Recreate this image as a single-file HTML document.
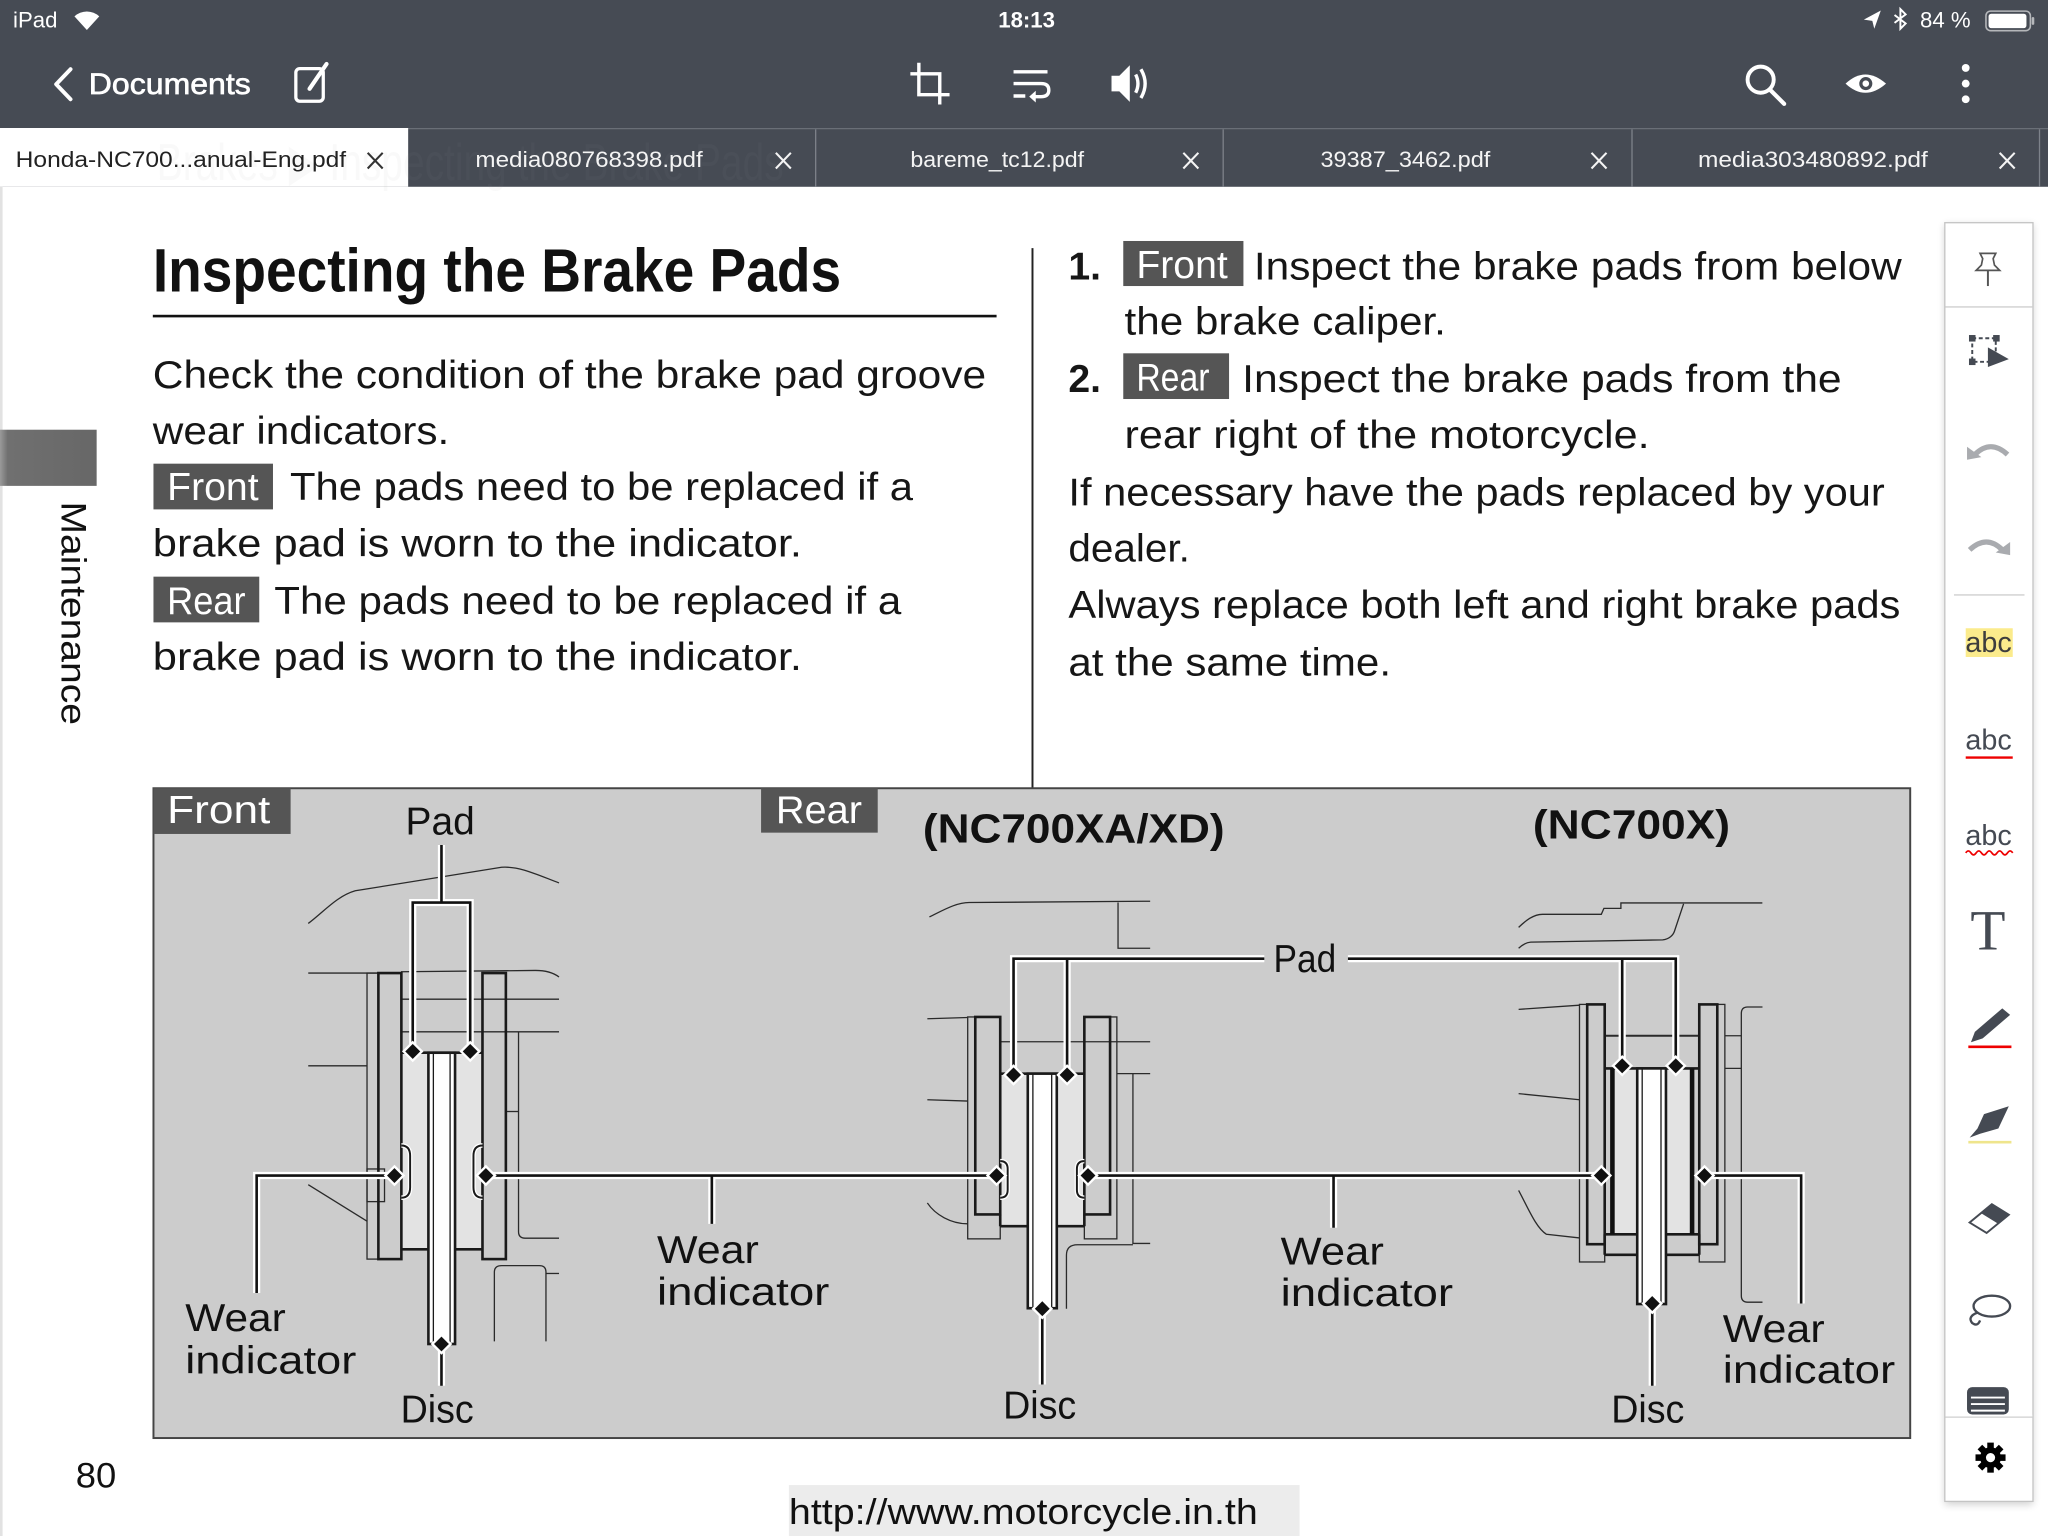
<!DOCTYPE html>
<html><head><meta charset="utf-8">
<style>
html,body{margin:0;padding:0;background:#fff;overflow:hidden;}
svg{display:block;}
</style></head>
<body>
<svg xmlns="http://www.w3.org/2000/svg" width="2048" height="1536" viewBox="0 0 1568 1176" font-family="'Liberation Sans', sans-serif">
<defs>
<filter id="sh" x="-30%" y="-5%" width="160%" height="110%"><feGaussianBlur stdDeviation="3"/></filter>
<linearGradient id="tabg" x1="0" x2="1" y1="0" y2="0">
<stop offset="0" stop-color="#9a9a9a"/><stop offset="0.08" stop-color="#707070"/><stop offset="1" stop-color="#676767"/>
</linearGradient>
</defs>
<rect width="1568" height="1176" fill="#fff"/>

<!-- ===== Top bars ===== -->
<rect width="1568" height="143" fill="#464b54"/>
<!-- status bar -->
<text x="10" y="21" font-size="17" fill="#fff">iPad</text>
<path d="M66.5,23 L57,12.5 A14,14 0 0 1 76,12.5 Z" fill="#fff"/>
<text x="786" y="21" font-size="17" font-weight="bold" fill="#fff" text-anchor="middle">18:13</text>
<path d="M1440,8 L1427,15 L1433.5,16 L1435,22 Z" fill="#fff"/>
<path d="M1450.5,11.5 L1459,18 L1455,22 L1455,7 L1459,11 L1450.5,17.5" stroke="#fff" stroke-width="1.5" fill="none"/>
<text x="1470" y="21" font-size="17" fill="#fff">84 %</text>
<rect x="1520.5" y="8.5" width="34" height="15" rx="3.5" fill="none" stroke="#fff" stroke-opacity="0.6" stroke-width="1.2"/>
<rect x="1522.5" y="10.5" width="29" height="11" rx="2" fill="#fff"/>
<rect x="1555.5" y="13" width="2" height="6" rx="1" fill="#fff" fill-opacity="0.6"/>

<!-- nav row -->
<path d="M54,53 L43,64.5 L54,76" stroke="#fff" stroke-width="3" fill="none" stroke-linecap="round" stroke-linejoin="round"/>
<text x="68" y="72" font-size="22.5" fill="#fff" stroke="#fff" stroke-width="0.5" textLength="124" lengthAdjust="spacingAndGlyphs">Documents</text>
<rect x="226.5" y="52.5" width="21" height="25" rx="3" fill="none" stroke="#fff" stroke-width="2.5"/>
<path d="M237,68 L250,49" stroke="#fff" stroke-width="3.2" stroke-linecap="round"/>
<!-- crop -->
<path d="M703.5,48 L703.5,72.5 L727,72.5 M697,56.5 L719.5,56.5 L719.5,80" stroke="#fff" stroke-width="2.6" fill="none"/>
<!-- wrap -->
<path d="M776,55 L802,55 M776,64 L797,64 Q803,64 803,69 Q803,74 797,74 L790,74 M776,73.5 L785,73.5" stroke="#fff" stroke-width="2.6" fill="none"/>
<path d="M793,69.5 L788,74 L793,78.5 Z" fill="#fff"/>
<!-- speaker -->
<path d="M851,58 L857,58 L865,50 L865,78 L857,70 L851,70 Z" fill="#fff"/>
<path d="M869.5,57 Q873,64 869.5,71 M873.5,53 Q880,64 873.5,75" stroke="#fff" stroke-width="2.6" fill="none"/>
<!-- search -->
<circle cx="1348" cy="61" r="10" stroke="#fff" stroke-width="3" fill="none"/>
<path d="M1355,68.5 L1366,79.5" stroke="#fff" stroke-width="3.2" stroke-linecap="round"/>
<!-- eye -->
<path d="M1413,64 Q1428,50 1444,64 Q1428,78 1413,64 Z" fill="#fff"/>
<circle cx="1428.5" cy="64" r="5" fill="#464b54"/>
<circle cx="1428.5" cy="64" r="2.5" fill="#fff"/>
<!-- kebab -->
<circle cx="1505" cy="52" r="3" fill="#fff"/><circle cx="1505" cy="64" r="3" fill="#fff"/><circle cx="1505" cy="76" r="3" fill="#fff"/>

<!-- tabs -->
<line x1="0" y1="98.5" x2="1568" y2="98.5" stroke="#6a6f77" stroke-width="1"/>
<rect x="0" y="98" width="312.5" height="45" fill="#fff"/>
<g stroke="#7d828a" stroke-width="1">
<line x1="624.5" y1="99" x2="624.5" y2="143"/><line x1="936.5" y1="99" x2="936.5" y2="143"/>
<line x1="1249.5" y1="99" x2="1249.5" y2="143"/><line x1="1561.5" y1="99" x2="1561.5" y2="143"/>
</g>
<!-- ghost header (very faint) -->
<text x="120" y="138" font-size="40" fill="#999" fill-opacity="0.06" textLength="480" lengthAdjust="spacingAndGlyphs">Brakes ▶ Inspecting the Brake Pads</text>
<text x="12" y="128" font-size="17" fill="#222" textLength="253" lengthAdjust="spacingAndGlyphs">Honda-NC700...anual-Eng.pdf</text>
<path d="M281.5,117 L293,129 M293,117 L281.5,129" stroke="#333" stroke-width="1.6"/>
<g font-size="17" fill="#f4f4f4">
<text x="364" y="128" textLength="174" lengthAdjust="spacingAndGlyphs">media080768398.pdf</text>
<text x="697" y="128" textLength="133" lengthAdjust="spacingAndGlyphs">bareme_tc12.pdf</text>
<text x="1011" y="128" textLength="130" lengthAdjust="spacingAndGlyphs">39387_3462.pdf</text>
<text x="1300" y="128" textLength="176" lengthAdjust="spacingAndGlyphs">media303480892.pdf</text>
</g>
<g stroke="#f4f4f4" stroke-width="1.6">
<path d="M594,117 L605.5,129 M605.5,117 L594,129"/>
<path d="M906,117 L917.5,129 M917.5,117 L906,129"/>
<path d="M1218.5,117 L1230,129 M1230,117 L1218.5,129"/>
<path d="M1531,117 L1542.5,129 M1542.5,117 L1531,129"/>
</g>

<!-- ===== Page ===== -->
<line x1="1" y1="143" x2="1" y2="1176" stroke="#e2e2e2" stroke-width="2"/>
<rect x="0" y="329" width="74" height="43" fill="url(#tabg)"/>
<text transform="translate(47,384) rotate(90)" font-size="27" fill="#111" textLength="171" lengthAdjust="spacingAndGlyphs">Maintenance</text>

<!-- title -->
<text x="117" y="223" font-size="47" font-weight="bold" fill="#111" textLength="527" lengthAdjust="spacingAndGlyphs">Inspecting the Brake Pads</text>
<rect x="117" y="241" width="646" height="2" fill="#111"/>

<g font-size="30" fill="#161616">
<text x="117" y="297" textLength="638" lengthAdjust="spacingAndGlyphs">Check the condition of the brake pad groove</text>
<text x="117" y="340" textLength="227" lengthAdjust="spacingAndGlyphs">wear indicators.</text>
<rect x="117.5" y="355" width="91.5" height="35" fill="#555"/>
<text x="128" y="383" textLength="70" lengthAdjust="spacingAndGlyphs" fill="#fff">Front</text>
<text x="222" y="383" textLength="477" lengthAdjust="spacingAndGlyphs">The pads need to be replaced if a</text>
<text x="117" y="426" textLength="497" lengthAdjust="spacingAndGlyphs">brake pad is worn to the indicator.</text>
<rect x="117.5" y="441.5" width="81" height="35" fill="#555"/>
<text x="128" y="470" textLength="60" lengthAdjust="spacingAndGlyphs" fill="#fff">Rear</text>
<text x="210" y="470" textLength="480" lengthAdjust="spacingAndGlyphs">The pads need to be replaced if a</text>
<text x="117" y="513" textLength="497" lengthAdjust="spacingAndGlyphs">brake pad is worn to the indicator.</text>
</g>

<!-- column divider -->
<line x1="790.5" y1="190" x2="790.5" y2="603" stroke="#222" stroke-width="1.5"/>

<g font-size="30" fill="#161616">
<text x="818" y="214" font-weight="bold" textLength="25" lengthAdjust="spacingAndGlyphs">1.</text>
<rect x="860" y="184.5" width="92" height="34.5" fill="#555"/>
<text x="870" y="213" fill="#fff" textLength="70" lengthAdjust="spacingAndGlyphs">Front</text>
<text x="960" y="214" textLength="496" lengthAdjust="spacingAndGlyphs">Inspect the brake pads from below</text>
<text x="861" y="256" textLength="246" lengthAdjust="spacingAndGlyphs">the brake caliper.</text>
<text x="818" y="300" font-weight="bold" textLength="25" lengthAdjust="spacingAndGlyphs">2.</text>
<rect x="860" y="270.5" width="81" height="35" fill="#555"/>
<text x="870" y="299" fill="#fff" textLength="56" lengthAdjust="spacingAndGlyphs">Rear</text>
<text x="951" y="300" textLength="459" lengthAdjust="spacingAndGlyphs">Inspect the brake pads from the</text>
<text x="861" y="343" textLength="402" lengthAdjust="spacingAndGlyphs">rear right of the motorcycle.</text>
<text x="818" y="387" textLength="625" lengthAdjust="spacingAndGlyphs">If necessary have the pads replaced by your</text>
<text x="818" y="430" textLength="93" lengthAdjust="spacingAndGlyphs">dealer.</text>
<text x="818" y="473" textLength="637" lengthAdjust="spacingAndGlyphs">Always replace both left and right brake pads</text>
<text x="818" y="517" textLength="247" lengthAdjust="spacingAndGlyphs">at the same time.</text>
</g>

<!-- ===== Diagram ===== -->
<rect x="117.5" y="603.5" width="1345" height="497.5" fill="#cccccc" stroke="#444" stroke-width="1.5"/>

<!-- thin background lines -->
<g stroke="#2a2a2a" stroke-width="1" fill="none">
<!-- front -->
<path d="M236,707 C248,698 258,686 272,682 L384,664 C398,663 412,670 428,676"/>
<path d="M236,745 L290,745"/>
<path d="M307,744 L410,743 C418,743 424,745 428,748"/>
<path d="M307,765 L428,765"/>
<path d="M307,790 L428,790"/>
<path d="M236,816 L281,816"/>
<path d="M236,907 L281,935"/>
<path d="M397,790 L397,943 Q397,948 402,948 L428,948"/>
<path d="M387,851 L397,851"/>
<path d="M378.5,1027 L378.5,974 Q378.5,969 384,969 L413,969 Q418,969 418,974 L418,1027"/>
<path d="M418,975 L428,975"/>
<rect x="281" y="745" width="8.7" height="219"/>
<rect x="281" y="895" width="13.4" height="25"/>
<!-- rear -->
<path d="M711.6,702 C722,697 732,691 742,691 L880.6,690"/>
<path d="M856,691 L856,726 L880.6,726"/>
<path d="M710,780 L741,779"/>
<path d="M710,842 L741,843"/>
<path d="M710,921 C716,930 728,937 741,937"/>
<path d="M765.8,797.6 L880.6,797.6"/>
<path d="M855,822 L880.6,822"/>
<path d="M867.4,822 L867.4,952 L880.6,952"/>
<path d="M816.5,1002 L816.5,961 Q816.5,953 825,953 L867.4,953"/>
<rect x="740.9" y="778.6" width="24.9" height="169.9"/>
<rect x="830.2" y="778.6" width="24.9" height="169.9"/>
<!-- nc700x -->
<path d="M1162.7,710 C1168,705 1174,700 1181,700 L1226,700 L1228,695.5 L1241,695.5 L1241,691.3 L1349.3,691.3"/>
<path d="M1162.7,726 C1166,723 1169,721.5 1172,721.3 L1273,719.6 C1278,719 1281,716 1282,713 L1289,692"/>
<path d="M1162.7,772.8 L1209.3,769.6"/>
<path d="M1162.7,837.3 L1209.3,842"/>
<path d="M1162.7,911.4 C1170,925 1176,940 1184,945 L1209.3,947.8"/>
<rect x="1209.3" y="769" width="19.3" height="197.2"/>
<rect x="1301" y="769" width="19.6" height="197.2"/>
<path d="M1349.4,771 L1338,771 Q1333.2,771 1333.2,776 L1333.2,992 Q1333.2,997 1338,997 L1349.4,997"/>
<path d="M1320.6,793 L1333.2,793 M1320.6,818 L1333.2,818"/>
<path d="M1228.6,793 L1301,793" stroke-width="1.5"/>
</g>

<!-- FRONT caliper -->
<rect x="307.3" y="806" width="62" height="150.5" fill="#e3e3e3"/>
<g stroke="#1a1a1a" stroke-width="2" fill="none">
<rect x="289.7" y="745" width="17.6" height="219"/>
<rect x="369.4" y="745" width="17.9" height="219"/>
<path d="M307.3,806 L369.4,806"/>
<path d="M307.3,956.5 L328,956.5 M348.4,956.5 L369.4,956.5"/>
</g>
<rect x="328" y="806" width="20.4" height="223" fill="#fff" stroke="#1a1a1a" stroke-width="2"/>
<path d="M331.8,806 L331.8,1029 M344.6,806 L344.6,1029" stroke="#1a1a1a" stroke-width="1"/>
<!-- REAR caliper -->
<rect x="765.8" y="822" width="64.4" height="116.8" fill="#e3e3e3"/>
<g stroke="#1a1a1a" stroke-width="2" fill="none">
<rect x="746.7" y="778.6" width="19.1" height="151.2"/>
<rect x="830.2" y="778.6" width="19.7" height="151.2"/>
<path d="M765.8,929.8 L765.8,938.8 M830.2,929.8 L830.2,938.8"/>
<path d="M765.8,822 L830.2,822"/>
<path d="M765.8,938.8 L787,938.8 M809,938.8 L830.2,938.8"/>
</g>
<rect x="786.9" y="822" width="22.2" height="179.6" fill="#fff" stroke="#1a1a1a" stroke-width="2"/>
<path d="M790.8,822 L790.8,1001.6 M805.2,822 L805.2,1001.6" stroke="#1a1a1a" stroke-width="1"/>
<!-- NC700X caliper -->
<rect x="1233.6" y="818" width="63" height="127" fill="#e3e3e3"/>
<g stroke="#1a1a1a" stroke-width="2" fill="none">
<rect x="1215.2" y="769" width="13.4" height="183.6"/>
<rect x="1301" y="769" width="13.8" height="183.6"/>
<path d="M1228.6,818 L1301,818"/>
<path d="M1228.6,945 L1253.5,945 M1275.5,945 L1301,945"/>
<path d="M1228.6,960.7 L1253.5,960.7 M1275.5,960.7 L1301,960.7"/>
<path d="M1228.6,945 L1228.6,960.7 M1301,945 L1301,960.7"/>
</g>
<path d="M1234.5,818 L1234.5,945 M1295.5,818 L1295.5,945" stroke="#111" stroke-width="3.5"/>
<rect x="1253.5" y="818" width="22" height="180.4" fill="#fff" stroke="#1a1a1a" stroke-width="2"/>
<path d="M1257.3,818 L1257.3,998.4 M1271.7,818 L1271.7,998.4" stroke="#1a1a1a" stroke-width="1"/>

<!-- wear indicator bumps -->
<g fill="none">
<path d="M307.3,877 Q314,877 314,885 L314,909 Q314,917 307.3,917 M369.4,877 Q362.5,877 362.5,885 L362.5,909 Q362.5,917 369.4,917 M765.8,889 Q771.5,889 771.5,895 L771.5,911 Q771.5,917 765.8,917 M830.2,889 Q824.5,889 824.5,895 L824.5,911 Q824.5,917 830.2,917" stroke="#fff" stroke-width="3.5"/>
<path d="M307.3,877 Q314,877 314,885 L314,909 Q314,917 307.3,917 M369.4,877 Q362.5,877 362.5,885 L362.5,909 Q362.5,917 369.4,917 M765.8,889 Q771.5,889 771.5,895 L771.5,911 Q771.5,917 765.8,917 M830.2,889 Q824.5,889 824.5,895 L824.5,911 Q824.5,917 830.2,917" stroke="#1a1a1a" stroke-width="1.5"/>
</g>

<!-- leaders -->
<g fill="none" stroke-linejoin="miter">
<g stroke="#fff" stroke-width="5.5">
<path d="M338,647 L338,691 M316,805 L316,691 L360,691 L360,805"/>
<path d="M338,1029 L338,1061"/>
<path d="M302,900 L196.5,900 L196.5,990"/>
<path d="M372,900 L763,900 M545,900 L545,937"/>
<path d="M833,900 L1226,900 M1021,900 L1021,940"/>
<path d="M1305,900 L1379,900 L1379,998"/>
<path d="M776,823 L776,734 L968,734 M817,734 L817,823"/>
<path d="M1032,734 L1283,734 L1283,816 M1242,734 L1242,816"/>
<path d="M798,1002 L798,1060"/>
<path d="M1265,998 L1265,1061"/>
</g>
<g stroke="#111" stroke-width="2">
<path d="M338,647 L338,691 M316,805 L316,691 L360,691 L360,805"/>
<path d="M338,1029 L338,1061"/>
<path d="M302,900 L196.5,900 L196.5,990"/>
<path d="M372,900 L763,900 M545,900 L545,937"/>
<path d="M833,900 L1226,900 M1021,900 L1021,940"/>
<path d="M1305,900 L1379,900 L1379,998"/>
<path d="M776,823 L776,734 L968,734 M817,734 L817,823"/>
<path d="M1032,734 L1283,734 L1283,816 M1242,734 L1242,816"/>
<path d="M798,1002 L798,1060"/>
<path d="M1265,998 L1265,1061"/>
</g>
</g>
<!-- diamonds -->
<g fill="#111" stroke="#fff" stroke-width="1.8">
<polygon points="316,798 323,805 316,812 309,805"/>
<polygon points="360,798 367,805 360,812 353,805"/>
<polygon points="338,1022 345,1029 338,1036 331,1029"/>
<polygon points="302,893 309,900 302,907 295,900"/>
<polygon points="372,893 379,900 372,907 365,900"/>
<polygon points="763,893 770,900 763,907 756,900"/>
<polygon points="833,893 840,900 833,907 826,900"/>
<polygon points="776,816 783,823 776,830 769,823"/>
<polygon points="817,816 824,823 817,830 810,823"/>
<polygon points="798,995 805,1002 798,1009 791,1002"/>
<polygon points="1226,893 1233,900 1226,907 1219,900"/>
<polygon points="1305,893 1312,900 1305,907 1298,900"/>
<polygon points="1242,809 1249,816 1242,823 1235,816"/>
<polygon points="1283,809 1290,816 1283,823 1276,816"/>
<polygon points="1265,991 1272,998 1265,1005 1258,998"/>
</g>

<!-- diagram labels -->
<rect x="117.5" y="603.5" width="105" height="35" fill="#555"/>
<rect x="582.7" y="603.5" width="89.3" height="34" fill="#555"/>
<g font-size="30" fill="#111">
<text x="128" y="630" fill="#fff" textLength="79" lengthAdjust="spacingAndGlyphs">Front</text>
<text x="594" y="630" fill="#fff" textLength="66" lengthAdjust="spacingAndGlyphs">Rear</text>
<text x="310.5" y="639" textLength="53" lengthAdjust="spacingAndGlyphs">Pad</text>
<text x="975" y="744" textLength="48" lengthAdjust="spacingAndGlyphs">Pad</text>
<text x="706.6" y="645" font-size="31" font-weight="bold" textLength="231" lengthAdjust="spacingAndGlyphs">(NC700XA/XD)</text>
<text x="1173.6" y="642" font-size="31" font-weight="bold" textLength="151" lengthAdjust="spacingAndGlyphs">(NC700X)</text>
<text x="141.8" y="1019" textLength="77" lengthAdjust="spacingAndGlyphs">Wear</text>
<text x="141.8" y="1051.5" textLength="131" lengthAdjust="spacingAndGlyphs">indicator</text>
<text x="503" y="967" textLength="78" lengthAdjust="spacingAndGlyphs">Wear</text>
<text x="503" y="999" textLength="132" lengthAdjust="spacingAndGlyphs">indicator</text>
<text x="980.5" y="968" textLength="79" lengthAdjust="spacingAndGlyphs">Wear</text>
<text x="980.5" y="1000" textLength="132" lengthAdjust="spacingAndGlyphs">indicator</text>
<text x="1319" y="1027.5" textLength="78" lengthAdjust="spacingAndGlyphs">Wear</text>
<text x="1319" y="1059" textLength="132" lengthAdjust="spacingAndGlyphs">indicator</text>
<text x="306.7" y="1089" textLength="56" lengthAdjust="spacingAndGlyphs">Disc</text>
<text x="768" y="1086" textLength="56" lengthAdjust="spacingAndGlyphs">Disc</text>
<text x="1233.6" y="1089" textLength="56" lengthAdjust="spacingAndGlyphs">Disc</text>
</g>

<!-- footer -->
<text x="58" y="1139" font-size="27" fill="#111" textLength="31" lengthAdjust="spacingAndGlyphs">80</text>
<rect x="604" y="1137" width="391" height="39" fill="#ececec"/>
<text x="604" y="1167" font-size="28" fill="#111" textLength="359" lengthAdjust="spacingAndGlyphs">http://www.motorcycle.in.th</text>

<!-- ===== Right toolbar ===== -->
<rect x="1489" y="172" width="67.5" height="980" fill="#000" opacity="0.18" filter="url(#sh)"/>
<rect x="1489" y="170.5" width="67.5" height="979" fill="#fff" stroke="#c4c4c4" stroke-width="1"/>
<line x1="1489.5" y1="235" x2="1556" y2="235" stroke="#cfcfcf" stroke-width="1"/>
<line x1="1496" y1="455.5" x2="1550" y2="455.5" stroke="#cfcfcf" stroke-width="1"/>
<!-- pin -->
<path d="M1516,194 L1528,194 L1526,198 L1527,203 L1531,207 L1513,207 L1517,203 L1518,198 Z" fill="none" stroke="#555" stroke-width="1.3"/>
<path d="M1522,207 L1522,219" stroke="#555" stroke-width="1.5"/>
<!-- select -->
<rect x="1510" y="259" width="18" height="18" fill="none" stroke="#454a53" stroke-width="1.5" stroke-dasharray="3,2"/>
<rect x="1507.5" y="256.5" width="5" height="5" fill="#454a53"/><rect x="1526" y="256.5" width="5" height="5" fill="#454a53"/>
<rect x="1507.5" y="274.5" width="5" height="5" fill="#454a53"/>
<path d="M1522,266 L1538,275 L1522,281 Z" fill="#454a53"/>
<!-- undo / redo -->
<path d="M1512,348 Q1524,336 1537,348" stroke="#a9abaf" stroke-width="4" fill="none"/>
<path d="M1506,342 L1517,350 L1506,352 Z" fill="#a9abaf"/>
<path d="M1508,421 Q1521,409 1533,421" stroke="#a9abaf" stroke-width="4" fill="none"/>
<path d="M1539,415 L1528,423 L1539,425 Z" fill="#a9abaf"/>
<!-- abc variants -->
<rect x="1505" y="481" width="36" height="22" fill="#fbeb8c"/>
<text x="1522.5" y="499" font-size="22" fill="#3d3d3d" text-anchor="middle">abc</text>
<text x="1522.5" y="574" font-size="22" fill="#454a53" text-anchor="middle">abc</text>
<line x1="1505" y1="580" x2="1541" y2="580" stroke="#e00" stroke-width="1.8"/>
<text x="1522.5" y="647" font-size="22" fill="#454a53" text-anchor="middle">abc</text>
<path d="M1505,653 q2,-3 4,0 q2,3 4,0 q2,-3 4,0 q2,3 4,0 q2,-3 4,0 q2,3 4,0 q2,-3 4,0 q2,3 4,0 q2,-3 4,0" stroke="#e00" stroke-width="1.3" fill="none"/>
<!-- T -->
<text x="1522" y="727" font-family="'Liberation Serif', serif" font-size="44" fill="#454a53" text-anchor="middle">T</text>
<!-- pen -->
<path d="M1509,798 L1512,790 L1533,772 L1539,777 L1518,795 Z" fill="#454a53"/>
<line x1="1507" y1="801.5" x2="1540" y2="801.5" stroke="#e00" stroke-width="2"/>
<!-- highlighter -->
<path d="M1508,871 L1514,864 L1519,853 L1538,847 L1530,864 L1516,868 Z" fill="#454a53"/>
<line x1="1507" y1="874.5" x2="1540" y2="874.5" stroke="#efe58c" stroke-width="2"/>
<!-- eraser -->
<path d="M1508,936 L1525,922 L1538,930 L1521,944 Z" fill="#fff" stroke="#454a53" stroke-width="1.5"/>
<path d="M1517,929 L1525,922 L1538,930 L1530,937 Z" fill="#454a53"/>
<!-- lasso -->
<ellipse cx="1525" cy="1000" rx="14" ry="8" fill="none" stroke="#454a53" stroke-width="1.8"/>
<path d="M1514,1005 Q1506,1008 1510,1013 Q1514,1016 1516,1011" fill="none" stroke="#454a53" stroke-width="1.8"/>
<!-- partial icon -->
<rect x="1506" y="1062" width="32" height="21" rx="4" fill="#454a53"/>
<path d="M1509,1070 L1535,1070 M1509,1075 L1535,1075 M1509,1080 L1535,1080" stroke="#fff" stroke-width="1.5"/>
<rect x="1489.5" y="1083" width="66.5" height="1.5" fill="#fff"/>
<line x1="1489.5" y1="1085" x2="1556" y2="1085" stroke="#cfcfcf" stroke-width="1"/>
<!-- gear -->
<g transform="translate(1524,1116)" fill="#000">
<circle r="8"/>
<rect x="-2.5" y="-11.5" width="5" height="23"/>
<rect x="-2.5" y="-11.5" width="5" height="23" transform="rotate(45)"/>
<rect x="-2.5" y="-11.5" width="5" height="23" transform="rotate(90)"/>
<rect x="-2.5" y="-11.5" width="5" height="23" transform="rotate(135)"/>
<circle r="3.5" fill="#fff"/>
</g>
</svg>
</body></html>
